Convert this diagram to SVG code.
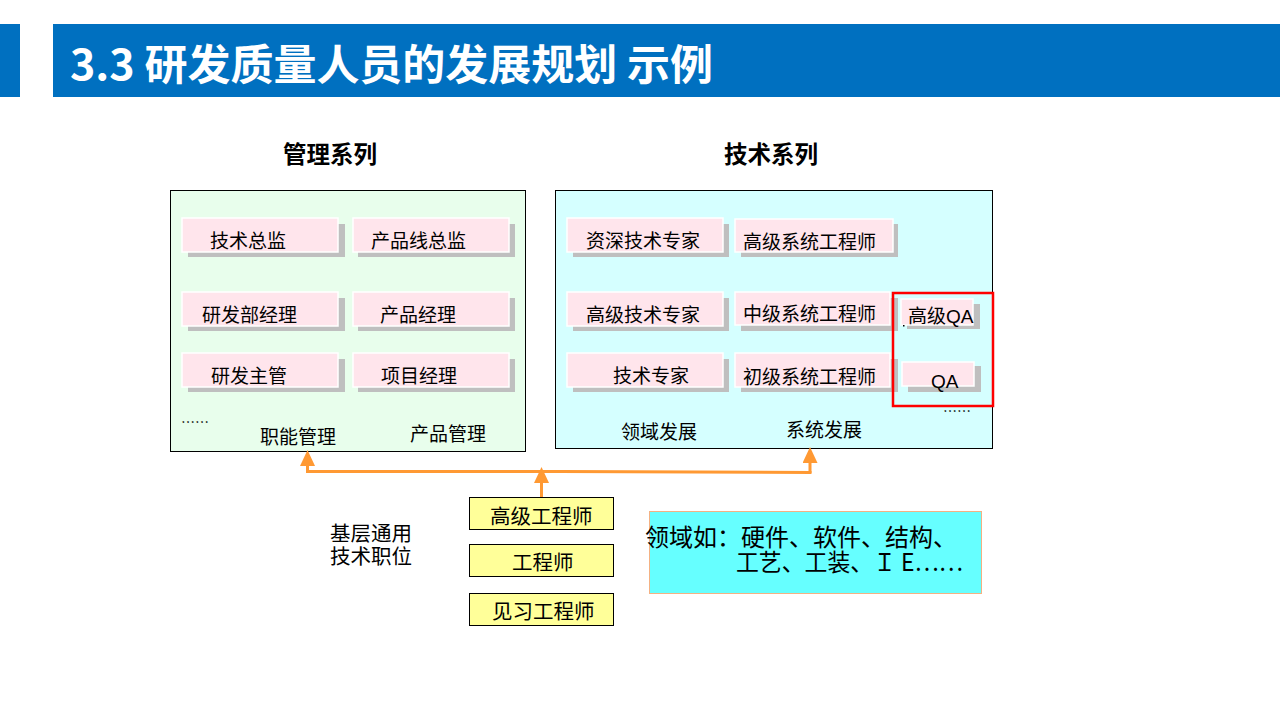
<svg xmlns="http://www.w3.org/2000/svg" width="1280" height="720" viewBox="0 0 1280 720">
  <defs>
    <!-- solid orange arrowhead, 15 wide and 16 long, tip 4px past the line end -->
    <marker id="arrowUp" viewBox="0 0 16 15" refX="12" refY="7.5" markerUnits="userSpaceOnUse" markerWidth="16" markerHeight="15" orient="auto">
      <path d="M0,0 L16,7.5 L0,15 z" fill="#FF9933"/>
    </marker>
  </defs>
  <style>
    text { font-family: "Noto Sans CJK SC", "Microsoft YaHei", sans-serif; fill: #000; }
    .title { font-size: 42px; font-weight: bold; fill: #fff; }
    .series { font-size: 23.5px; font-weight: bold; }
    .lbl { font-size: 19px; }
    .ylbl { font-size: 20.5px; }
    .latin { font-family: "Liberation Sans", Arial, sans-serif; }
    .shadow { fill: #BFBFBF; }
    .pink { fill: #FFE5EC; stroke: #fff; stroke-width: 1.5; }
    .yellow { fill: #FFFF99; stroke: #000; stroke-width: 1; }
    .conn { fill: none; stroke: #FF9933; stroke-width: 3; }
  </style>

  <rect width="1280" height="720" fill="#fff"/>

  <!-- header band -->
  <g id="header">
    <rect x="0" y="24" width="20" height="73" fill="#0070C0"/>
    <rect x="53" y="24" width="1227" height="73" fill="#0070C0"/>
    <text class="title" x="70" y="80" textLength="643" lengthAdjust="spacingAndGlyphs">3.3 研发质量人员的发展规划 示例</text>
  </g>

  <!-- column headings -->
  <text class="series" x="330" y="163" text-anchor="middle">管理系列</text>
  <text class="series" x="771" y="163" text-anchor="middle">技术系列</text>

  <!-- management series panel -->
  <g id="mgmt-panel">
    <rect x="170.5" y="190.5" width="355" height="261" fill="#E8FEEC" stroke="#000" stroke-width="1"/>
    <text x="181" y="427" font-size="14">……</text>
    <text class="lbl" x="260" y="444">职能管理</text>
    <text class="lbl" x="410" y="441">产品管理</text>
  </g>

  <g id="mgmt-director">
    <rect class="shadow" x="188" y="224" width="157" height="33"/>
    <rect class="pink" x="182" y="218" width="156" height="34"/>
    <text class="lbl" x="210" y="248">技术总监</text>
  </g>
  <g id="mgmt-line-director">
    <rect class="shadow" x="358" y="224" width="157" height="33"/>
    <rect class="pink" x="353" y="218" width="156" height="34"/>
    <text class="lbl" x="371" y="248">产品线总监</text>
  </g>
  <g id="mgmt-dept-manager">
    <rect class="shadow" x="188" y="298" width="157" height="33"/>
    <rect class="pink" x="182" y="292" width="156" height="34"/>
    <text class="lbl" x="202" y="322">研发部经理</text>
  </g>
  <g id="mgmt-product-manager">
    <rect class="shadow" x="358" y="298" width="157" height="33"/>
    <rect class="pink" x="353" y="292" width="156" height="34"/>
    <text class="lbl" x="380" y="322">产品经理</text>
  </g>
  <g id="mgmt-supervisor">
    <rect class="shadow" x="188" y="359" width="157" height="33"/>
    <rect class="pink" x="182" y="353" width="156" height="34"/>
    <text class="lbl" x="211" y="383">研发主管</text>
  </g>
  <g id="mgmt-project-manager">
    <rect class="shadow" x="358" y="359" width="157" height="33"/>
    <rect class="pink" x="353" y="353" width="156" height="34"/>
    <text class="lbl" x="381" y="383">项目经理</text>
  </g>

  <!-- technical series panel -->
  <g id="tech-panel">
    <rect x="555.5" y="190.5" width="437" height="258" fill="#D5FFFF" stroke="#000" stroke-width="1"/>
    <text x="943" y="416" font-size="14">……</text>
    <text class="lbl" x="621" y="439">领域发展</text>
    <text class="lbl" x="786" y="437">系统发展</text>
  </g>

  <g id="tech-senior-expert">
    <rect class="shadow" x="573" y="224" width="156" height="33"/>
    <rect class="pink" x="567" y="218" width="156" height="34"/>
    <text class="lbl" x="586" y="248">资深技术专家</text>
  </g>
  <g id="tech-senior-syseng">
    <rect class="shadow" x="741" y="224" width="157" height="33"/>
    <rect class="pink" x="735" y="219" width="158" height="33"/>
    <text class="lbl" x="743" y="249">高级系统工程师</text>
  </g>
  <g id="tech-advanced-expert">
    <rect class="shadow" x="573" y="298" width="156" height="33"/>
    <rect class="pink" x="567" y="292" width="156" height="34"/>
    <text class="lbl" x="586" y="322">高级技术专家</text>
  </g>
  <g id="tech-mid-syseng">
    <rect class="shadow" x="741" y="298" width="157" height="33"/>
    <rect class="pink" x="735" y="292" width="155" height="33"/>
    <text class="lbl" x="743" y="321">中级系统工程师</text>
  </g>
  <g id="tech-expert">
    <rect class="shadow" x="573" y="359" width="156" height="33"/>
    <rect class="pink" x="567" y="353" width="156" height="34"/>
    <text class="lbl" x="613" y="383">技术专家</text>
  </g>
  <g id="tech-junior-syseng">
    <rect class="shadow" x="741" y="359" width="157" height="33"/>
    <rect class="pink" x="735" y="353" width="155" height="34"/>
    <text class="lbl" x="743" y="384">初级系统工程师</text>
  </g>

  <g id="qa-senior">
    <rect class="shadow" x="907" y="304" width="73" height="25"/>
    <rect class="pink" x="901" y="299" width="72" height="26"/>
    <rect x="903" y="325" width="1.5" height="1.5" fill="#000"/>
    <text class="lbl" x="908" y="323">高级<tspan class="latin">QA</tspan></text>
  </g>
  <g id="qa">
    <rect class="shadow" x="908" y="366" width="73" height="26"/>
    <rect class="pink" x="902" y="362" width="72" height="24"/>
    <text class="lbl latin" x="931" y="388">QA</text>
  </g>
  <rect id="qa-highlight" x="893" y="293" width="100" height="113" fill="none" stroke="#FF0000" stroke-width="2.5"/>

  <!-- connectors -->
  <g id="connectors">
    <polyline class="conn" points="307.5,473 307.5,454" marker-end="url(#arrowUp)"/>
    <polyline class="conn" points="810,473 810,451" marker-end="url(#arrowUp)"/>
    <polyline class="conn" points="306,471.5 560,471.5 811.5,472.5"/>
    <polyline class="conn" points="541.5,497 541.5,471" marker-end="url(#arrowUp)"/>
  </g>

  <!-- base technical positions -->
  <g id="base-caption">
    <text font-size="20.5"><tspan x="330" y="541">基层通用</tspan><tspan x="330" y="564">技术职位</tspan></text>
  </g>
  <g id="base-senior-eng">
    <rect class="yellow" x="469.5" y="497.5" width="144" height="32" stroke="#808080"/>
    <text class="ylbl" x="490" y="524">高级工程师</text>
  </g>
  <g id="base-eng">
    <rect class="yellow" x="469.5" y="544.5" width="144" height="32"/>
    <text class="ylbl" x="512" y="570">工程师</text>
  </g>
  <g id="base-trainee">
    <rect class="yellow" x="469.5" y="593.5" width="144" height="32"/>
    <text class="ylbl" x="492" y="619">见习工程师</text>
  </g>

  <!-- domain note -->
  <g id="domain-note">
    <rect x="649.5" y="511.5" width="332" height="82" fill="#66FFFF" stroke="#F4B183" stroke-width="1"/>
    <text font-size="24"><tspan x="645" y="546">领域如：硬件、软件、结构、</tspan><tspan x="736" y="571" textLength="227" lengthAdjust="spacingAndGlyphs">工艺、工装、Ｉ E……</tspan></text>
  </g>
</svg>
